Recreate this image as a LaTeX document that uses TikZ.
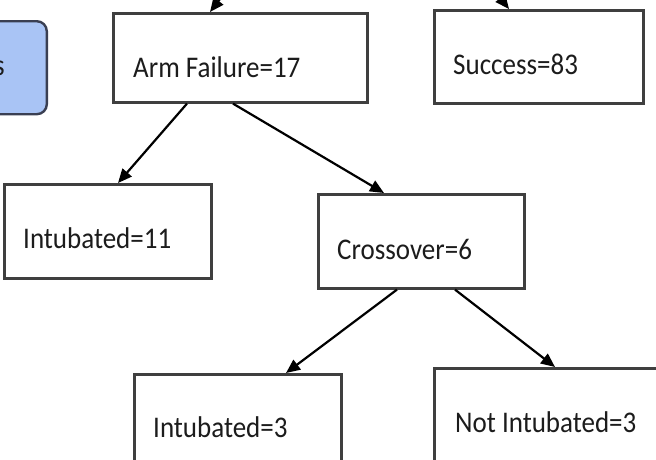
\documentclass[tikz,border=0pt]{standalone}
\usepackage{fontspec}
\setmainfont{Carlito}[FakeStretch=0.9]
\usetikzlibrary{arrows.meta}
\definecolor{boxline}{HTML}{3F3F3F}
\definecolor{txt}{HTML}{1C1C1C}
\definecolor{bluefill}{HTML}{A9C4F5}
\definecolor{blueline}{HTML}{3A3F52}
\tikzset{
  box/.style={draw=boxline, line width=2.6pt, fill=white, anchor=north west, inner sep=0pt},
  lbl/.style={anchor=base west, inner sep=0pt, text=txt, font=\fontsize{30}{36}\selectfont},
  arr/.style={draw=black, line width=2.2pt, -{Triangle[length=14pt,width=12pt]}},
  bluebox/.style={draw=blueline, line width=2.4pt, fill=bluefill, rounded corners=10pt, anchor=north east, inner sep=0pt}
}
\begin{document}
\begin{tikzpicture}[x=1pt,y=-1pt]
\useasboundingbox (0,0) rectangle (656,459);
\clip (0,0) rectangle (656,459);
\fill[white] (0,0) rectangle (656,459);
% partly visible box at the left
\node[bluebox, minimum width=90pt, minimum height=93pt] (lab) at (48,20) {};
\node[lbl, anchor=base east] (labtxt) at (5,75) {s};
% boxes
\node[box, minimum width=254pt, minimum height=89pt] (arm) at (112,12) {};
\node[box, minimum width=209pt, minimum height=93pt] (suc) at (433,9) {};
\node[box, minimum width=207pt, minimum height=94pt] (int11) at (3,183) {};
\node[box, minimum width=206pt, minimum height=94pt] (cross) at (317,193) {};
\node[box, minimum width=207pt, minimum height=110pt] (int3) at (133,373) {};
\node[box, minimum width=240pt, minimum height=110pt] (notint) at (433,367) {};
% texts
\node[lbl] (armt) at (133,77) {Arm Failure=17};
\node[lbl] (suct) at (453,74) {Success=83};
\node[lbl] (int11t) at (23,248) {Intubated=11};
\node[lbl] (crosst) at (337,259) {Crossover=6};
\node[lbl] (int3t) at (153,437) {Intubated=3};
\node[lbl] (notintt) at (455,432) {Not Intubated=3};
% incoming arrows from above (cut off)
\coordinate (topA) at (250,-40);
\coordinate (topB) at (470,-40);
\draw[arr] (topA) -- ([xshift=98pt]arm.north west);
\draw[arr] (topB) -- ([xshift=76pt]suc.north west);
% connectors
\draw[arr] ([xshift=75pt]arm.south west) -- ([xshift=115pt]int11.north west);
\draw[arr] ([xshift=121pt]arm.south west) -- ([xshift=67pt]cross.north west);
\draw[arr] ([xshift=80pt]cross.south west) -- ([xshift=153pt]int3.north west);
\draw[arr] ([xshift=138pt]cross.south west) -- ([xshift=122pt]notint.north west);
\end{tikzpicture}
\end{document}
